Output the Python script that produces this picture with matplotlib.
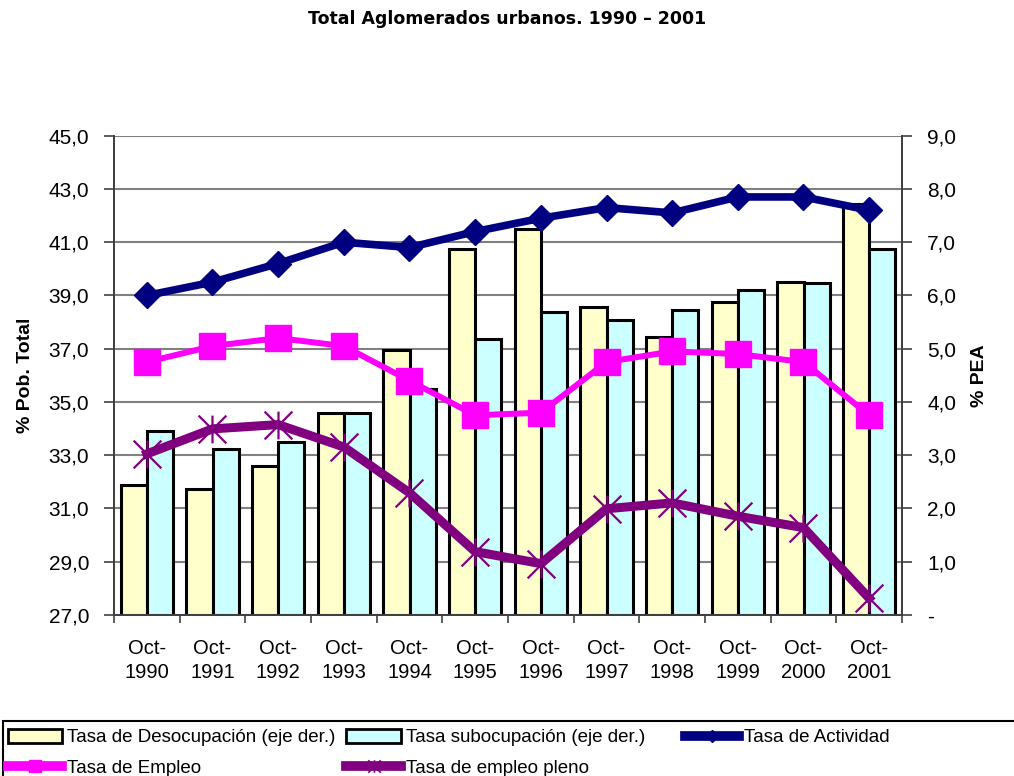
from matplotlib import pyplot as plt
from matplotlib.lines import Line2D
from matplotlib.patches import Patch, Rectangle
from matplotlib.path import Path
import numpy as np

years = ["1990", "1991", "1992", "1993", "1994", "1995",
         "1996", "1997", "1998", "1999", "2000", "2001"]

# right axis (% PEA)
desocupacion = [2.44, 2.36, 2.80, 3.80, 4.97, 6.87, 7.24, 5.78, 5.22, 5.88, 6.26, 7.72]
subocupacion = [3.46, 3.11, 3.25, 3.80, 4.25, 5.18, 5.69, 5.54, 5.72, 6.10, 6.23, 6.87]

# left axis (% Pob. Total)
actividad = [39.0, 39.5, 40.2, 41.0, 40.8, 41.4, 41.9, 42.3, 42.1, 42.7, 42.7, 42.2]
empleo = [36.5, 37.1, 37.4, 37.1, 35.8, 34.5, 34.6, 36.5, 36.9, 36.8, 36.5, 34.5]
empleo_pleno = [33.05, 33.99, 34.15, 33.31, 31.59, 29.38, 28.93, 30.99, 31.21, 30.71, 30.28, 27.63]

left_ticks = [27, 29, 31, 33, 35, 37, 39, 41, 43, 45]
right_ticks = [0, 1, 2, 3, 4, 5, 6, 7, 8, 9]

plt.rcParams["font.family"] = ["Liberation Sans", "DejaVu Sans"]

# asterisk: X plus a vertical bar
asterisk = Path(
    [(-1, -1), (1, 1), (-1, 1), (1, -1), (0, -1), (0, 1)],
    [Path.MOVETO, Path.LINETO, Path.MOVETO, Path.LINETO, Path.MOVETO, Path.LINETO],
)

fig = plt.figure(figsize=(10.14, 7.76), dpi=100)
ax = fig.add_axes([114 / 1014, 1 - 615 / 776, 788 / 1014, (615 - 135.7) / 776])
axr = ax.twinx()
ax.set_zorder(axr.get_zorder() + 1)
ax.patch.set_visible(False)

x = np.arange(len(years))
w = 0.4

# bars on the right axis, behind everything
axr.bar(x - w / 2, desocupacion, w, color="#FFFFCC", edgecolor="black", linewidth=2.2, zorder=2)
axr.bar(x + w / 2, subocupacion, w, color="#CCFFFF", edgecolor="black", linewidth=2.2, zorder=2)
axr.set_ylim(0, 9)
axr.set_yticks(right_ticks)
axr.set_yticklabels(["-" if v == 0 else f"{v:.1f}".replace(".", ",") for v in right_ticks])
axr.set_axisbelow(True)
axr.yaxis.grid(True, color="#808080", linewidth=1.5, zorder=0)

# lines on the left axis
ax.plot(x, actividad, color="#000080", linewidth=5.5, marker="D", markersize=13.5, zorder=5)
ax.plot(x, empleo, color="#FF00FF", linewidth=4.3, marker="s", markersize=19, zorder=5)
ax.plot(x, empleo_pleno, color="#800080", linewidth=6.5, marker=asterisk, markersize=20,
        markeredgewidth=1.6, zorder=5)
ax.set_ylim(27, 45)
ax.set_yticks(left_ticks)
ax.set_yticklabels([f"{v:.1f}".replace(".", ",") for v in left_ticks])

ax.set_xlim(-0.5, len(years) - 0.5)
ax.set_xticks(np.arange(-0.5, len(years)), labels=[])
ax.set_xticks(x, labels=["Oct-\n" + y for y in years], minor=True)
ax.tick_params(axis="x", which="minor", length=0, pad=17, labelsize=14.5)
ax.tick_params(axis="x", which="major", length=6, width=1.2, color="#404040")

for a in (ax, axr):
    a.tick_params(axis="y", length=7, width=1.2, color="#404040", labelsize=15, pad=11)
    for s in a.spines.values():
        s.set_color("#404040")
        s.set_linewidth(1.3)
    a.spines["top"].set_visible(False)
for lab in ax.get_xticklabels(minor=True):
    lab.set_linespacing(1.35)

ax.set_ylabel("% Pob. Total", fontsize=14, fontweight="bold", labelpad=10)
axr.set_ylabel("% PEA", fontsize=14, fontweight="bold", rotation=90, labelpad=11)

fig.text(0.5, 1 - 19 / 776, "Total Aglomerados urbanos. 1990 \u2013 2001", ha="center", va="center",
         fontsize=12.5, fontweight="bold", family="DejaVu Sans")

# legend: first two columns, then the third one on its own
bar_handles = [
    Patch(facecolor="#FFFFCC", edgecolor="black", linewidth=2),
    Line2D([], [], color="#FF00FF", linewidth=7, marker="s", markersize=9),
    Patch(facecolor="#CCFFFF", edgecolor="black", linewidth=2),
    Line2D([], [], color="#800080", linewidth=7, marker=asterisk, markersize=9, markeredgewidth=1.2),
]
bar_labels = ["Tasa de Desocupación (eje der.)", "Tasa de Empleo",
              "Tasa subocupación (eje der.)", "Tasa de empleo pleno"]
leg_kw = dict(loc="upper left", frameon=False, fontsize=13.5, handlelength=2.9, handleheight=0.8,
              handletextpad=0.25, columnspacing=0.6, labelspacing=0.7, borderaxespad=0,
              borderpad=0.2)
fig.legend(bar_handles, bar_labels, bbox_to_anchor=(4 / 1014, 1 - 725 / 776), ncol=2, **leg_kw)
fig.legend([Line2D([], [], color="#000080", linewidth=7, marker="D", markersize=6)],
           ["Tasa de Actividad"], bbox_to_anchor=(681 / 1014, 1 - 725 / 776), **leg_kw)
fig.add_artist(Rectangle((3 / 1014, -0.05), 1.1, 0.05 + 1 - 721 / 776, transform=fig.transFigure,
                         fill=False, edgecolor="black", linewidth=1.5))

fig.savefig("out.png", dpi=100)
